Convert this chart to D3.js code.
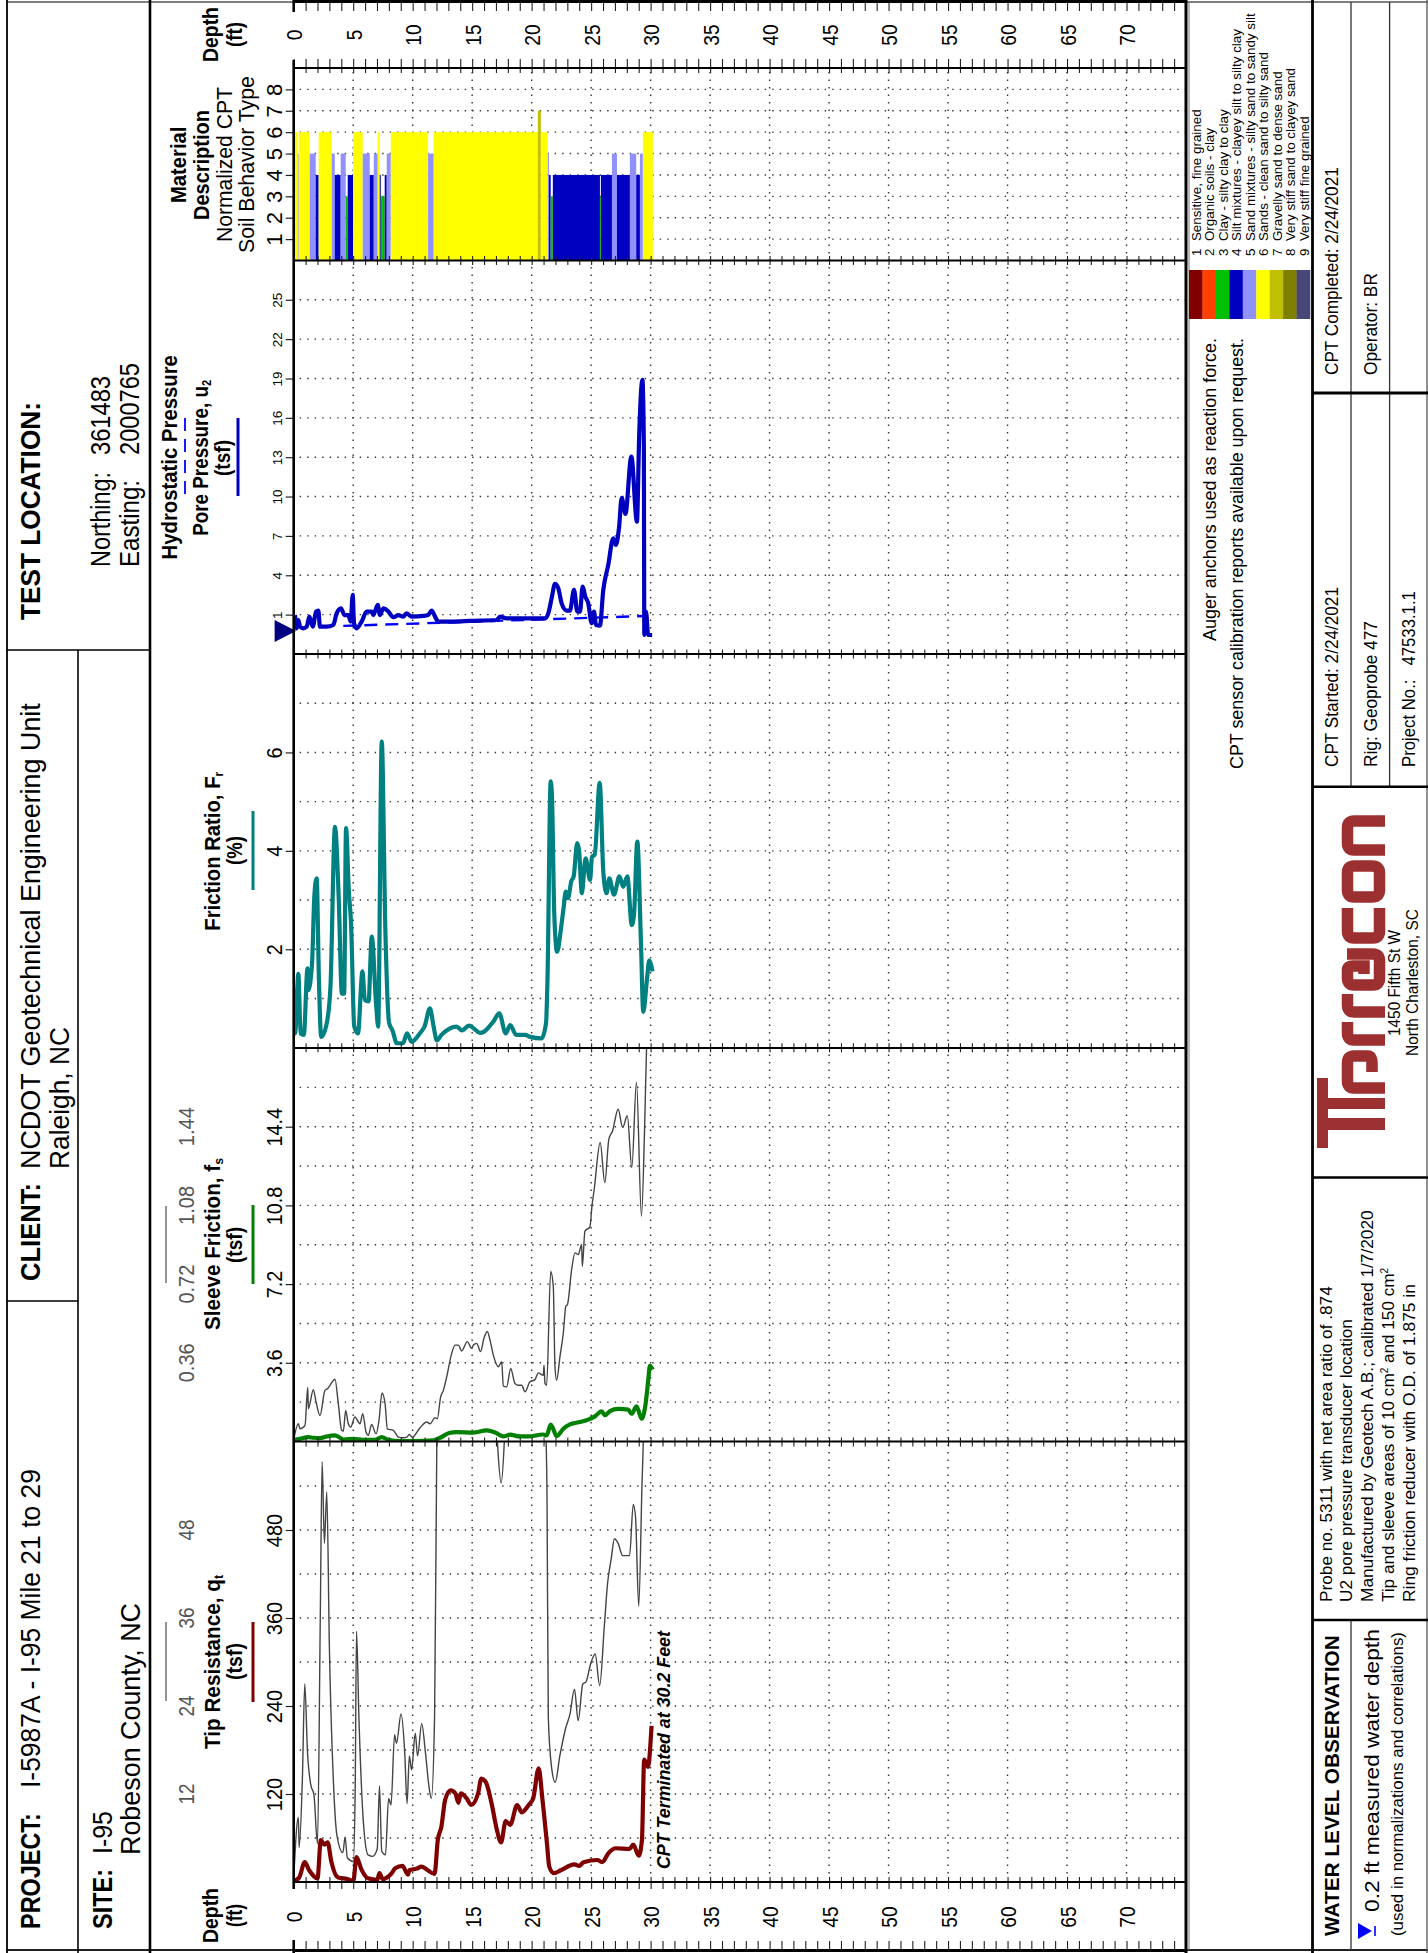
<!DOCTYPE html>
<html><head><meta charset="utf-8">
<script src="https://cdn.jsdelivr.net/npm/d3@7/dist/d3.min.js"></script>
<style>html,body{margin:0;padding:0;background:#fff}svg{display:block}text{font-family:"Liberation Sans",Arial,sans-serif;fill:#000}</style>
</head><body><svg id="c" width="1428" height="1953"></svg>
<script>
// ---------- DATA ----------
const depthTicks=[0,5,10,15,20,25,30,35,40,45,50,55,60,65,70];
const tipTicks=[120,240,360,480];
const tipGrayLabels=["12","24","36","48"];
const fsTicks=[3.6,7.2,10.8,14.4];
const fsGrayLabels=["0.36","0.72","1.08","1.44"];
const frTicks=[2,4,6];
const uTicks=[1,4,7,10,13,16,19,22,25];
const sbtTicks=[1,2,3,4,5,6,7,8];

const tipDepth=[0,.46,.93,1.3,2.0,2.28,2.58,2.85,3.16,3.74,4.5,5.01,5.28,5.67,6.25,7.02,7.21,7.48,8.18,8.56,9.14,9.6,9.72,10.3,10.76,11.26,11.84,12.11,12.42,12.73,13.19,13.58,13.85,14.04,14.54,14.92,15.5,15.77,16.16,16.66,17.05,17.43,17.82,18.2,18.78,19.17,19.75,20.13,20.59,20.9,21.29,21.48,21.87,22.45,23.6,23.99,24.37,25.53,25.92,26.49,27.07,28.23,28.54,29.0,29.27,29.46,29.77,30.08];
const tipValue=[1.4,6,27,16,5,57,51,54,28,6,4,1.4,34,18,5,3,12,4,11,19,22,10,16,18,21,16,11,57,76,112,125,121,108,121,114,105,121,141,136,105,73,54,83,78,105,95,105,114,155,114,52,21,12,16,24,22,27,30,27,40,46,45,51,36,57,167,157,213];

const tipGrayDepth=[0,.39,.46,.73,.93,1.16,1.43,1.7,2.0,2.24,2.39,2.58,2.78,3.0,3.36,3.63,4.13,4.32,4.51,5.01,5.17,5.28,5.48,5.86,6.25,6.63,7.02,7.21,7.4,7.71,7.98,8.18,8.48,8.64,9.02,9.33,9.53,9.72,9.91,10.22,10.41,10.76,11.07,11.38,11.57,11.84,12.03,12.15,16.66,17.12,17.43,17.7,18,20.9,21.21,21.29,21.4,21.67,21.98,22.37,22.83,23.22,23.6,23.91,24.3,24.57,24.95,25.34,25.72,26.11,26.38,26.69,26.96,27.26,27.65,28.23,28.54,28.73,29.0,29.27,29.39,29.5];
const tipGrayValue=[.4,8.8,4.7,14.1,27,17.7,13.3,11.9,5.2,36.9,57.3,46.2,53.2,32,12.9,6.4,4,6.1,3.3,2.8,12.9,34.2,22.5,8.1,3.7,3.5,4.5,13.1,4.2,3.7,11.4,10.5,20.1,18.9,22.9,17.7,10.7,17.2,15.3,20.3,17.2,21.6,17.7,12.9,11.4,22.5,60,75,75,60,54.4,60,75,75,60.9,52.9,22.5,15.7,13.6,17.2,20.8,22.9,26.3,22,27,27.3,29.7,31.1,26.8,34.9,40.7,44.1,46.8,46.2,44.5,44.5,51.5,49.8,37.6,53.9,60.9,75];

const fsDepth=[0,.53,1.23,1.65,2.21,2.77,3.47,3.89,4.17,5.01,5.85,6.83,7.39,7.96,8.94,10.06,11.74,12.3,13.14,13.7,15.1,16.22,17.06,17.62,18.18,19.02,19.72,20.98,21.26,21.6,21.77,22.1,22.66,23.22,24.06,24.76,25.32,25.88,26.16,26.58,27.28,28.12,28.4,28.82,29.24,29.58,29.8,29.94,30.17];
const fsValue=[.08,.12,.2,.17,.15,.23,.28,.17,.09,.12,.08,.08,.2,.08,.02,.02,.05,.17,.4,.43,.41,.51,.38,.23,.31,.23,.23,.32,.28,.77,.63,.25,.58,.78,.89,1.0,1.15,1.38,1.2,1.39,1.49,1.46,1.27,1.61,1.04,1.73,2.8,3.46,3.29];

const fsGrayDepth=[0,.39,.53,.95,1.18,1.23,1.65,1.88,2.21,2.63,2.86,3.05,3.47,3.75,4.03,4.17,4.37,4.59,4.79,5.15,5.57,5.8,6.08,6.27,6.55,6.92,7.17,7.42,7.68,7.87,8.38,8.8,9.22,9.5,9.72,9.97,10.62,11.18,11.46,11.88,12.07,12.35,12.58,12.86,13.28,13.56,13.84,14.12,14.59,14.96,15.1,15.38,15.71,15.99,16.27,16.5,16.78,17.2,17.48,17.62,17.9,18.24,18.6,18.88,19.16,19.44,19.86,20.28,20.56,20.98,21.04,21.12,21.26,21.6,21.82,21.96,22.1,22.38,22.66,22.88,23.0,23.36,23.64,23.92,24.2,24.26,24.48,24.9,25.07,25.26,25.76,26.15,26.49,26.8,27.27,27.65,28.04,28.42,28.81,29.23,29.5,29.66,29.77];
const fsGrayValue=[.008,.081,.058,.074,.247,.15,.237,.181,.119,.234,.242,.257,.285,.173,.051,.047,.142,.081,.066,.112,.081,.127,.043,.028,.078,.035,.097,.222,.173,.058,.051,.02,.017,.02,.032,.02,.063,.089,.081,.109,.104,.204,.234,.296,.403,.441,.441,.414,.457,.426,.441,.449,.411,.472,.503,.464,.395,.342,.365,.253,.25,.334,.265,.257,.257,.227,.273,.283,.314,.303,.349,.265,.257,.778,.709,.342,.28,.388,.495,.62,.625,.786,.863,.855,.901,.801,.962,.982,1.077,1.154,1.368,1.184,1.383,1.42,1.52,1.437,1.49,1.253,1.644,1.031,1.445,1.805,1.95];

const frDepth=[0,.12,.39,.58,.85,1.16,1.23,1.54,1.74,1.93,2.12,2.31,2.78,3.09,3.47,3.78,4.05,4.24,4.4,4.63,4.82,5.09,5.4,5.78,5.98,6.29,6.56,6.94,7.1,7.4,7.71,8.02,8.29,8.68,9.18,9.53,9.91,10.6,11.0,11.45,11.76,12.03,12.42,13.69,14.15,14.73,15.7,16.78,17.28,17.82,18.2,18.7,19.47,19.86,20.83,21.21,21.33,21.6,21.71,21.9,22.14,22.45,22.68,22.87,23.06,23.33,23.53,23.83,23.99,24.22,24.53,24.91,25.07,25.3,25.72,26.03,26.3,26.53,26.92,27.38,27.69,28.04,28.42,28.61,28.88,29.19,29.38,29.69,29.88,30.16];
const frValue=[1.2,.29,1.5,.29,.26,1.61,1.17,1.71,3.1,3.44,1.38,.22,.5,1.24,4.49,3.07,1.1,1.1,4.46,3.2,2.53,.43,.29,1.55,.97,.94,2.26,.83,.43,6.22,2.33,.5,.36,.09,.09,.29,.12,.29,.43,.8,.43,.15,.26,.43,.35,.45,.3,.53,.7,.29,.46,.26,.26,.22,.19,.5,1.38,5.41,5.1,2.73,1.95,2.39,2.83,3.17,3.04,3.38,3.48,4.16,3.99,3.14,3.85,3.41,3.88,3.92,5.38,3.55,3.14,3.44,3.11,3.48,3.27,3.48,2.49,2.73,4.19,2.12,.73,1.38,1.77,1.55];

const uDepth=[.11,.25,.39,.53,.81,1.09,1.32,1.6,1.88,2.07,2.21,2.77,3.33,3.61,3.98,4.26,4.59,4.79,4.96,5.07,5.29,5.71,6.13,6.55,6.69,7.06,7.25,7.54,7.96,8.37,8.79,9.2,9.48,9.92,10.9,11.3,11.6,11.88,12.16,13.42,14.82,17.06,17.34,17.9,19.58,21.12,21.4,21.68,21.96,22.24,22.52,22.94,23.22,23.56,23.84,24.06,24.29,24.51,24.76,25.04,25.24,25.41,25.74,26.02,26.44,26.86,27.08,27.34,27.57,27.88,28.38,28.85,29.04,29.31,29.43,29.47,29.61,29.8,30.13];
const uValue=[.97,-.04,.59,.08,-.04,.08,.85,.08,1.23,1.31,.08,.08,.21,1.1,1.48,.97,.97,.47,2.5,.34,-.04,.47,1.23,1.23,.97,1.74,.97,1.48,1.23,.8,.97,.85,1.1,.85,.9,.97,1.31,.85,.47,.47,.52,.59,.85,.72,.72,.72,1.1,2.25,3.34,3.01,1.86,1.31,1.31,2.88,1.23,1.23,3.14,2.37,1.86,.34,1.23,.21,.16,2.88,4.79,6.82,6.31,7.59,9.9,8.68,13.05,8.08,14.7,18.9,14,-.55,1.23,-.55,-.55];
const hydroDepth=[4.17,29.7];
const hydroValue=[.14,.9];
const waterDepth=0.2;

const sbtEdges=[0,.34,.42,1.35,1.85,2.1,3.2,3.45,3.95,4.37,4.54,4.99,5.8,6.39,6.73,7.06,7.23,7.32,7.65,7.82,8.16,11.3,11.77,20.52,20.77,21.36,21.45,21.6,21.78,25.74,25.82,26.75,27.17,28.26,28.79,29.1,29.35,30.19];
const sbtTypes=[6,5,6,5,4,6,5,4,5,3,4,6,5,4,5,6,4,3,4,5,6,5,6,7,6,5,4,3,4,3,4,5,4,5,4,5,6];

const sbtNames=["Sensitive, fine grained","Organic soils - clay","Clay - silty clay to clay","Silt mixtures - clayey silt to silty clay","Sand mixtures - silty sand to sandy silt","Sands - clean sand to silty sand","Gravelly sand to dense sand","Very stiff sand to clayey sand","Very stiff fine grained"];
const sbtColors=["#7f0000","#ff4000","#00c000","#0000c0","#9090ff","#ffff00","#c0c000","#808000","#484878"];

// ---------- LAYOUT ----------
const svg=d3.select("#c");
const L=293.7,R=1186;
const x=d3.scaleLinear([0,75],[L,R]);
const panels={
 tip:{top:1442,bottom:1882,dom:[0,600]},
 fs:{top:1048,bottom:1441.5,dom:[0,18]},
 fr:{top:654,bottom:1047.7,dom:[0,8]},
 u:{top:260.4,bottom:654,dom:[-2,28]},
 sbt:{top:68,bottom:260.5,dom:[0,9]}
};
for(const k in panels){const p=panels[k];p.y=d3.scaleLinear(p.dom,[p.bottom,p.top]);}
const yTipGray=d3.scaleLinear([0,60],[panels.tip.bottom,panels.tip.top]);
const yFsGray=d3.scaleLinear([0,1.8],[panels.fs.bottom,panels.fs.top]);

const defs=svg.append("defs");
for(const k in panels){const p=panels[k];
 defs.append("clipPath").attr("id","clip-"+k).append("rect").attr("x",L).attr("y",p.top).attr("width",R-L).attr("height",p.bottom-p.top);}

// rotated text; o.len = real length in pixels along the reading direction
function rt(px,py,str,o={}){
 const t=svg.append("text").attr("transform",`translate(${px},${py}) rotate(-90)`)
  .attr("font-size",o.size||20).attr("text-anchor",o.anchor||"start");
 if(o.bold)t.attr("font-weight","bold");
 if(o.italic)t.attr("font-style","italic");
 if(o.fill)t.style("fill",o.fill);
 t.style("white-space","pre").text(str);
 t.node().__pos=[px,py];
 if(o.sub){t.append("tspan").attr("dy",o.subDy||3).attr("font-size",o.subSize||13).text(o.sub);}
 if(o.len)fit(t,o.len);
 return t;
}
function fit(t,len){const n=t.node(),w=n.getComputedTextLength(),[a,b]=n.__pos;
 t.attr("transform",`translate(${a},${b}) rotate(-90) scale(${len/w},1)`);}

// ---------- GRID ----------
const gridG=svg.append("g").attr("stroke","#333").attr("stroke-width",1.4).attr("stroke-dasharray","1.4,6.1").attr("fill","none");
const vGrid=depthTicks.slice(1);
gridG.selectAll(".v").data(vGrid).join("line").attr("x1",d=>x(d)).attr("x2",d=>x(d)).attr("y1",panels.sbt.top+4).attr("y2",panels.tip.bottom-4);
function hGrid(p,vals){gridG.append("g").selectAll("line").data(vals).join("line").attr("x1",L+6).attr("x2",R).attr("y1",d=>p.y(d)).attr("y2",d=>p.y(d));}
hGrid(panels.tip,d3.range(60,600,60));
hGrid(panels.fs,d3.range(1.8,17,1.8));
hGrid(panels.fr,d3.range(1,8,1));
hGrid(panels.u,uTicks);
hGrid(panels.sbt,sbtTicks);

// ---------- SBT BARS ----------
svg.append("g").selectAll("rect").data(sbtTypes).join("rect")
 .attr("x",(d,i)=>x(sbtEdges[i])).attr("width",(d,i)=>x(sbtEdges[i+1])-x(sbtEdges[i]))
 .attr("y",d=>panels.sbt.y(d)).attr("height",d=>panels.sbt.bottom-panels.sbt.y(d))
 .attr("fill",d=>sbtColors[d-1]);

// ---------- LINES ----------
function curve(depths,vals,yS,clip,color,w,dash){
 const pts=depths.map((d,i)=>[d,vals[i]]);
 const pth=svg.append("path").datum(pts).attr("clip-path",`url(#clip-${clip})`)
  .attr("fill","none").attr("stroke",color).attr("stroke-width",w).attr("stroke-linejoin","round")
  .attr("d",d3.line().curve(d3.curveMonotoneX).x(p=>x(p[0])).y(p=>yS(p[1])));
 if(dash)pth.attr("stroke-dasharray",dash);
}
curve(tipGrayDepth,tipGrayValue,yTipGray,"tip","#444",1.4);
curve(tipDepth,tipValue,panels.tip.y,"tip","#7f0000",4.2);
curve(fsGrayDepth,fsGrayValue,yFsGray,"fs","#444",1.4);
curve(fsDepth,fsValue,panels.fs.y,"fs","#008000",4.2);
curve(frDepth,frValue,panels.fr.y,"fr","#008080",4.2);
curve(hydroDepth,hydroValue,panels.u.y,"u","#0000ff",2.4,"13,8");
curve(uDepth,uValue,panels.u.y,"u","#0000c0",4.2);

// water symbol on the pore pressure panel
svg.append("path").attr("fill","#000080").attr("d",d3.line()([[x(waterDepth),631],[274.6,620],[274.6,642]])+"Z");

// ---------- VALUE AXES ----------
function valueAxis(p,ticks,size,sx){
 const g=svg.append("g").attr("transform",`translate(${L},0)`)
  .call(d3.axisLeft(p.y).tickValues(ticks).tickSize(8).tickFormat(d=>String(d)));
 g.select(".domain").remove();
 g.selectAll(".tick line").attr("stroke","#222").attr("stroke-width",1.2);
 g.selectAll(".tick text").attr("x",0).attr("dy",0).attr("font-size",size)
  .attr("font-family",null).attr("text-anchor","middle")
  .attr("transform",`translate(-11.5,0) rotate(-90) scale(${sx},1)`);
}
valueAxis(panels.tip,tipTicks,22,.91);
valueAxis(panels.fs,fsTicks,22,.9);
valueAxis(panels.fr,frTicks,22,.9);
valueAxis(panels.u,uTicks,13.5,1);
valueAxis(panels.sbt,sbtTicks,22,1);

// ---------- DEPTH TICK ROWS ----------
const minor=d3.range(0,76);
function depthRow(yPos,up,down){
 const g=svg.append("g").attr("transform",`translate(0,${yPos})`)
  .call(d3.axisBottom(x).tickValues(minor).tickSizeInner(down).tickSizeOuter(0).tickFormat(""));
 g.select(".domain").remove();
 g.selectAll(".tick line").attr("y1",-up).attr("stroke","#222").attr("stroke-width",1.1);
}
depthRow(panels.sbt.top,9,5);depthRow(panels.sbt.bottom,4.5,4.5);depthRow(panels.u.bottom,4.5,4.5);
depthRow(panels.fr.bottom,4.5,4.5);depthRow(panels.tip.top,4.5,4.5);depthRow(panels.tip.bottom,5,7);
depthRow(2,0,9);depthRow(1950,9,0);

function depthLabels(yc){
 const g=svg.append("g").attr("transform",`translate(0,${yc})`)
  .call(d3.axisBottom(x).tickValues(depthTicks).tickSize(0).tickFormat(d=>String(d)));
 g.select(".domain").remove();
 g.selectAll(".tick text").attr("y",0).attr("dy",0).attr("font-size",22).attr("font-family",null)
  .attr("text-anchor","middle").attr("transform","translate(8,0) rotate(-90) scale(.87,1)");
}
depthLabels(35);depthLabels(1917);

// ---------- FRAME ----------
const frame=svg.append("g").attr("stroke","#000").attr("fill","none");
function ln(x1,y1,x2,y2,w,c){frame.append("line").attr("x1",x1).attr("y1",y1).attr("x2",x2).attr("y2",y2).attr("stroke-width",w).attr("stroke",c||"#000");}
ln(7,2,1428,2,1.4,"#555");ln(7,1950,1428,1950,2,"#222");
ln(293,1.5,1186,1.5,3);ln(293,1950.5,1186,1950.5,3);
ln(7,0,7,1953,1.8);ln(78,650,78,1953,1.6);ln(150,0,150,1953,2.6);ln(7,650,150,650,1.6);ln(7,1301,78,1301,1.6);
ln(L,0,L,12,2.6);ln(L,60,L,1889,2.6);ln(L,1940,L,1953,2.6);
ln(1186,0,1186,1953,3);ln(1189,2,1189,1950,1,"#777");
ln(L,68,R,68,2);ln(L,260.5,R,260.5,2);ln(L,654,R,654,2);ln(L,1048,R,1048,2);ln(L,1441.5,R,1441.5,2);ln(L,1882,R,1882,2);
ln(1312.5,0,1312.5,1953,2.8);
ln(1351,2,1351,787,1.3,"#333");ln(1389.6,2,1389.6,787,1.3,"#333");
ln(1351,1620,1351,1950,1.3,"#333");
ln(1427,0,1427,1953,1.3,"#555");
ln(1312,393,1428,393,3);ln(1312,786.7,1428,786.7,2.6);ln(1312,1177.5,1428,1177.5,2.6);ln(1312,1620,1428,1620,2.6);

// ---------- TITLE BLOCK TEXT ----------
const big=27;
rt(40,1929,"PROJECT:",{size:big,bold:true,len:116});
rt(40,1788,"I-5987A - I-95 Mile 21 to 29",{size:big,len:319});
rt(112,1929,"SITE:",{size:big,bold:true,len:60});
rt(112,1854,"I-95",{size:big,len:43});
rt(140,1855,"Robeson County, NC",{size:big,len:252});
rt(40,1281,"CLIENT:",{size:big,bold:true,len:98});
rt(40,1169,"NCDOT Geotechnical Engineering Unit",{size:big,len:466});
rt(69,1169,"Raleigh, NC",{size:big,len:142});
rt(40,620,"TEST LOCATION:",{size:big,bold:true,len:218});
rt(110,567,"Northing:",{size:big,len:95});
rt(110,455,"361483",{size:big,len:79});
rt(139,567,"Easting:",{size:big,len:87});
rt(139,455,"2000765",{size:big,len:92});

// ---------- COLUMN HEADERS ----------
const hs=22;
rt(218,1943,"Depth",{size:hs,bold:true,len:55});rt(242,1927,"(ft)",{size:hs,bold:true,len:23});
rt(218,62,"Depth",{size:hs,bold:true,len:55});rt(242,47,"(ft)",{size:hs,bold:true,len:25});
rt(219.5,1749,"Tip Resistance, q",{size:hs,bold:true,len:174,sub:"t"});
rt(242,1680,"(tsf)",{size:hs,bold:true,len:37});
rt(219.5,1330,"Sleeve Friction, f",{size:hs,bold:true,len:172,sub:"s"});
rt(242,1263,"(tsf)",{size:hs,bold:true,len:36});
rt(219.5,930.7,"Friction Ratio, F",{size:hs,bold:true,len:159,sub:"r"});
rt(242,865,"(%)",{size:hs,bold:true,len:29});
rt(177,559.5,"Hydrostatic Pressure",{size:hs,bold:true,len:204.5});
rt(208,535.8,"Pore Pressure, u",{size:hs,bold:true,len:156,sub:"2"});
rt(230,476,"(tsf)",{size:hs,bold:true,len:36});
rt(186,203,"Material",{size:hs,bold:true,len:76.5});
rt(209,220,"Description",{size:hs,bold:true,len:110});
rt(232,242,"Normalized CPT",{size:22.5,len:155});
rt(254,253,"Soil Behavior Type",{size:22.5,len:177});

function legLine(xp,y1,y2,c,w,dash){const l=svg.append("line").attr("x1",xp).attr("x2",xp).attr("y1",y1).attr("y2",y2).attr("stroke",c).attr("stroke-width",w);if(dash)l.attr("stroke-dasharray",dash);}
legLine(166,1622,1701,"#666",1.4);legLine(253,1622,1702,"#7f0000",3);
legLine(166,1206,1283,"#666",1.4);legLine(253,1205,1284,"#008000",3);
legLine(253,811,890,"#008080",3);
legLine(185,418,496,"#0000ff",1.8,"13,8");legLine(238,418,496,"#0000c0",3);

tipTicks.forEach((d,i)=>rt(193.5,panels.tip.y(d),tipGrayLabels[i],{size:22,anchor:"middle",fill:"#555",len:21}));
fsTicks.forEach((d,i)=>rt(193.5,panels.fs.y(d),fsGrayLabels[i],{size:22,anchor:"middle",fill:"#555",len:39}));

rt(670,1869,"CPT Terminated at 30.2 Feet",{size:18.6,bold:true,italic:true,len:238});

// ---------- RIGHT COLUMN ----------
rt(1216,641,"Auger anchors used as reaction force.",{size:17.7,len:303});
rt(1243,769,"CPT sensor calibration reports available upon request.",{size:17.7,len:431});
const swW=(1310-1189)/9;
svg.append("g").selectAll("rect").data(sbtColors).join("rect").attr("x",(d,i)=>1189+i*swW).attr("width",swW+.3).attr("y",270).attr("height",49).attr("fill",d=>d);
sbtNames.forEach((n,i)=>rt(1200.7+i*13.5,256,`${i+1}  ${n}`,{size:13.4}));

rt(1338,375,"CPT Completed: 2/24/2021",{size:18,len:208});
rt(1377,375,"Operator: BR",{size:18,len:102});
rt(1338,767,"CPT Started: 2/24/2021",{size:18,len:180});
rt(1377,767,"Rig: Geoprobe 477",{size:18,len:146});
rt(1415,767,"Project No.:   47533.1.1",{size:18,len:176});

// logo graphic
const logoColor="#9c2f2f";
const logo=svg.append("g").attr("fill","none").attr("stroke",logoColor).attr("stroke-width",11.5);
["M1385,821H1354Q1347.5,821 1347.5,828V843Q1347.5,850 1354,850H1385",
 "M1372,866Q1379.5,866 1379.5,873V890Q1379.5,897 1372,897H1354Q1347.5,897 1347.5,890V873Q1347.5,866 1354,866Z",
 "M1347.5,908V931Q1347.5,938 1354,938H1373Q1379.5,938 1379.5,931V908",
 "M1347,954H1373Q1379.5,954 1379.5,961V978Q1379.5,985 1373,985H1354Q1347.5,985 1347.5,978V970Q1347.5,966 1353,966H1364V974",
 "M1385,1012H1354Q1347.5,1012 1347.5,1005V994",
 "M1385,1040H1354Q1347.5,1040 1347.5,1033V1022",
 "M1385,1088H1354Q1347.5,1088 1347.5,1081V1063Q1347.5,1056 1354,1056H1368Q1372,1056 1372,1063V1072"
].forEach(d=>logo.append("path").attr("d",d));
svg.append("g").attr("fill",logoColor).selectAll("rect").data([[1317,1078,11,70],[1317,1098,68,11],[1317,1118,68,12]]).join("rect")
 .attr("x",d=>d[0]).attr("y",d=>d[1]).attr("width",d=>d[2]).attr("height",d=>d[3]);
rt(1400,1036,"1450 Fifth St W",{size:16,len:106});
rt(1418,1056,"North Charleston, SC",{size:16,len:147});

rt(1331.7,1602,"Probe no. 5311 with net area ratio of .874",{size:17,len:316});
rt(1351.7,1602,"U2 pore pressure transducer location",{size:17,len:283});
rt(1373,1602,"Manufactured by Geotech A.B.; calibrated 1/7/2020",{size:17,len:392});
{const t=rt(1394,1602,"Tip and sleeve areas of 10 cm",{size:17});
 t.append("tspan").attr("dy",-6).attr("font-size",10).text("2");
 t.append("tspan").attr("dy",6).text(" and 150 cm");
 t.append("tspan").attr("dy",-6).attr("font-size",10).text("2");
 fit(t,334.5);}
rt(1415,1602,"Ring friction reducer with O.D. of 1.875 in",{size:17,len:318});

rt(1339,1936,"WATER LEVEL OBSERVATION",{size:21,bold:true,len:301});
svg.append("path").attr("fill","#0000ff").attr("d","M1358,1923L1358,1939L1372,1931Z");
svg.append("line").attr("x1",1375).attr("x2",1375).attr("y1",1926).attr("y2",1936).attr("stroke","#0000ff").attr("stroke-width",1.6);
rt(1379,1912,"0.2 ft measured water depth",{size:20,len:283});
rt(1403,1936,"(used in normalizations and correlations)",{size:17,len:304});
</script></body></html>
